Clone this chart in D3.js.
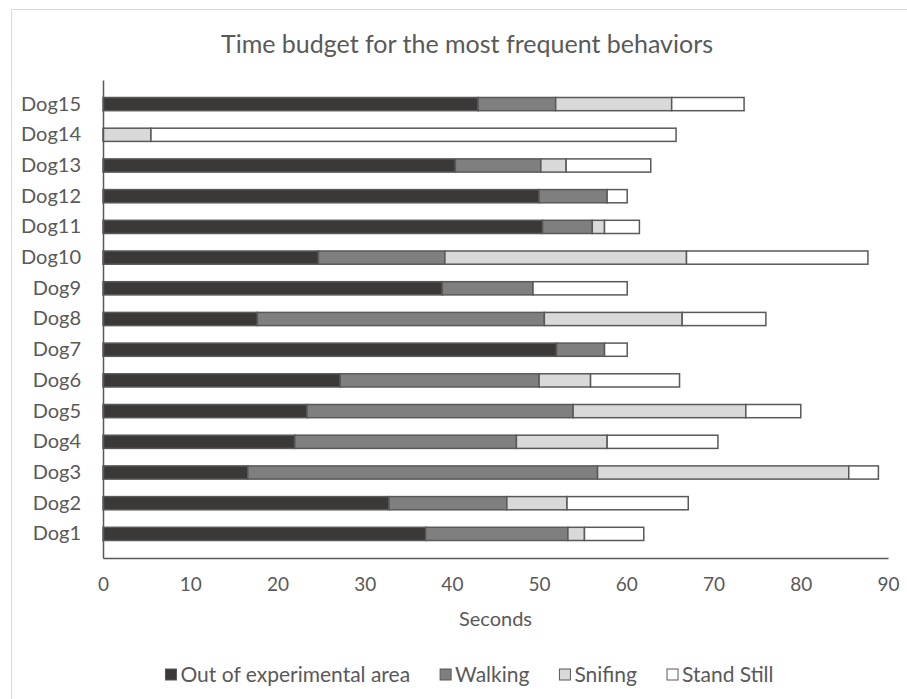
<!DOCTYPE html>
<html>
<head>
<meta charset="utf-8">
<script src="https://cdn.jsdelivr.net/npm/d3@7"></script>
<style>
  body { margin: 0; background: #fff; }
  svg { display: block; }
  text { font-family: Lato, "Open Sans", sans-serif; fill: #595959; }
</style>
</head>
<body>
<svg id="chart" width="907" height="699"></svg>
<script>
// Seconds spent in each behaviour, per dog
const dogs = ["Dog1","Dog2","Dog3","Dog4","Dog5","Dog6","Dog7","Dog8","Dog9","Dog10","Dog11","Dog12","Dog13","Dog14","Dog15"];
const outOfArea  = [37.0, 32.8, 16.6, 22.0, 23.4, 27.2, 52.0, 17.7, 38.9, 24.7, 50.4, 50.0, 40.4, 0.0, 43.0];
const walking    = [16.3, 13.5, 40.1, 25.4, 30.5, 22.8,  5.5, 32.9, 10.4, 14.5,  5.7,  7.8,  9.8, 0.0,  8.9];
const snifing    = [ 1.9,  6.9, 28.8, 10.4, 19.8,  5.9,  0.0, 15.8,  0.0, 27.7,  1.4,  0.0,  2.9, 5.5, 13.3];
const standStill = [ 6.8, 13.9,  3.4, 12.7,  6.3, 10.2,  2.6,  9.6, 10.8, 20.8,  4.0,  2.3,  9.7, 60.2,  8.3];

const seriesNames  = ["Out of experimental area", "Walking", "Snifing", "Stand Still"];
const seriesColors = ["#3b3838", "#7f7f7f", "#d9d9d9", "#ffffff"];
const xTicks = [0, 10, 20, 30, 40, 50, 60, 70, 80, 90];

const chartTitle = "Time budget for the most frequent behaviors";
const xAxisTitle = "Seconds";

const svg = d3.select("#chart");

// chart area frame
svg.append("rect")
  .attr("x", 11.5).attr("y", 9.5)
  .attr("width", 920).attr("height", 720)
  .attr("fill", "none").attr("stroke", "#d9d9d9").attr("stroke-width", 1);

const plot = { left: 103, right: 888, top: 80, bottom: 558 };

const x = d3.scaleLinear().domain([0, 90]).range([plot.left, plot.right]);
const y = d3.scaleBand().domain(dogs.slice().reverse()).range([plot.top, plot.bottom]).padding(0.57);

// rows of the stacked table
const rows = dogs.map((d, i) => ({
  dog: d,
  [seriesNames[0]]: outOfArea[i],
  [seriesNames[1]]: walking[i],
  [seriesNames[2]]: snifing[i],
  [seriesNames[3]]: standStill[i]
}));
const stacked = d3.stack().keys(seriesNames)(rows);

// title
svg.append("text")
  .attr("x", 467).attr("y", 53)
  .attr("text-anchor", "middle")
  .style("font-size", "25px")
  .text(chartTitle);

// bars
svg.append("g").selectAll("g")
  .data(stacked)
  .join("g")
  .attr("fill", (d, i) => seriesColors[i])
  .selectAll("rect")
  .data(d => d.filter(s => s[1] - s[0] > 0))
  .join("rect")
  .attr("x", d => x(d[0]))
  .attr("y", d => y(d.data.dog))
  .attr("width", d => x(d[1]) - x(d[0]))
  .attr("height", y.bandwidth())
  .attr("stroke", "#595959")
  .attr("stroke-width", 1.5);

// axes
const xAxis = svg.append("g")
  .attr("transform", `translate(0,${plot.bottom})`)
  .call(d3.axisBottom(x).tickValues(xTicks).tickSize(0).tickPadding(20));
xAxis.select(".domain").attr("stroke", "#595959").attr("stroke-width", 1.5);
xAxis.selectAll("text").style("font-size", "19px").attr("fill", "#595959");

const yAxis = svg.append("g")
  .attr("transform", `translate(${plot.left},0)`)
  .call(d3.axisLeft(y).tickSize(0).tickPadding(22));
yAxis.select(".domain").attr("stroke", "#595959").attr("stroke-width", 1.5);
yAxis.selectAll("text").style("font-size", "20px").attr("fill", "#595959");

// axis title
svg.append("text")
  .attr("x", (plot.left + plot.right) / 2).attr("y", 626)
  .attr("text-anchor", "middle")
  .style("font-size", "20px")
  .text(xAxisTitle);

// legend
const legend = svg.append("g");
const items = legend.selectAll("g").data(seriesNames).join("g");
items.append("rect")
  .attr("width", 11).attr("height", 11)
  .attr("y", -13)
  .attr("fill", (d, i) => seriesColors[i])
  .attr("stroke", "#595959").attr("stroke-width", 1);
items.append("text")
  .attr("x", 15).attr("y", 0)
  .style("font-size", "21px")
  .text(d => d);
let cx = 0;
items.each(function () {
  d3.select(this).attr("transform", `translate(${cx},0)`);
  cx += 15 + d3.select(this).select("text").node().getComputedTextLength() + 30;
});
const legendWidth = cx - 30;
legend.attr("transform", `translate(${469.5 - legendWidth / 2},682)`);
</script>
</body>
</html>
